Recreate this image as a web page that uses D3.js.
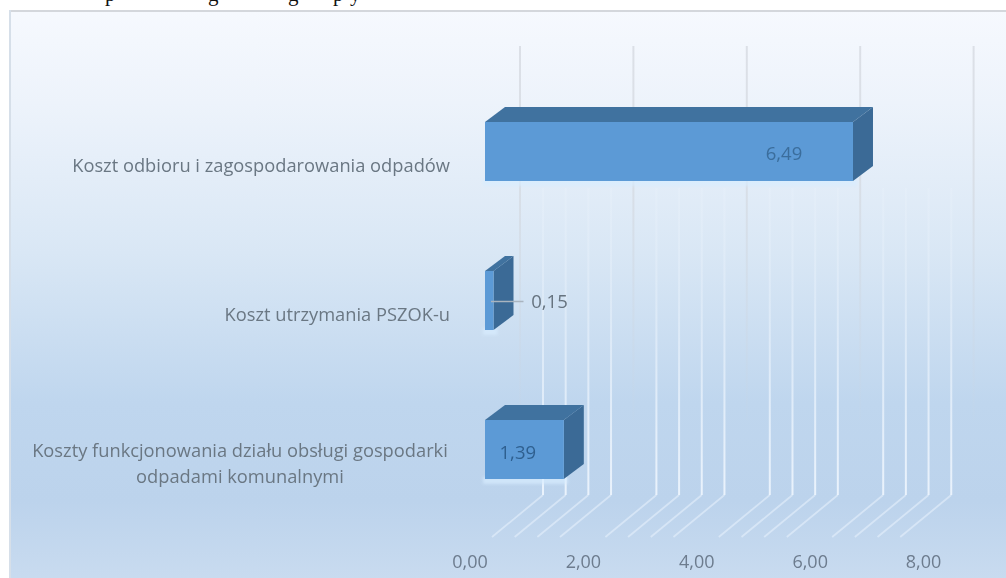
<!DOCTYPE html>
<html><head><meta charset="utf-8">
<script src="https://cdn.jsdelivr.net/npm/d3@7/dist/d3.min.js"></script>
<style>html,body{margin:0;padding:0;background:#fff}svg{display:block}</style>
</head><body><svg id="c" width="1006" height="578"></svg>
<script>
const categories = [
  ["Koszt odbioru i zagospodarowania odpadów"],
  ["Koszt utrzymania PSZOK-u"],
  ["Koszty funkcjonowania działu obsługi gospodarki","odpadami komunalnymi"]
];
const values = [6.49, 0.15, 1.39];
const valueLabels = ["6,49","0,15","1,39"];
const axisTicks = [0,2,4,6,8];
const tickLabels = ["0,00","2,00","4,00","6,00","8,00"];
const wallTicks = [0,2,4,6,8];
const minorTicks = [0,0.4,0.8,1.2, 2,2.4,2.8,3.2, 4,4.4,4.8,5.2, 6,6.4,6.8,7.2];
const clippedHeading = ["p","g","g","p","y"];
const clippedHeadingAt = [105,208,288,333,350];

const W=1006,H=578;
const svg=d3.select("#c");
const defs=svg.append("defs");
const bg=defs.append("linearGradient").attr("id","bg").attr("x1",0).attr("x2",0).attr("y1",0).attr("y2",1);
[[0,"#f6f9fe"],[.16,"#edf3fb"],[.42,"#d9e7f5"],[.68,"#bfd6ee"],[.85,"#bcd3ec"],[1,"#cadcf0"]].forEach(d=>bg.append("stop").attr("offset",d[0]).attr("stop-color",d[1]));
const wl=defs.append("linearGradient").attr("id","wl").attr("gradientUnits","userSpaceOnUse").attr("x1",0).attr("x2",0).attr("y1",190).attr("y2",495);
[[0,.15],[.35,.35],[.7,.65],[1,.85]].forEach(d=>wl.append("stop").attr("offset",d[0]).attr("stop-color","#f2f8ff").attr("stop-opacity",d[1]));
const gl=defs.append("linearGradient").attr("id","gl").attr("gradientUnits","userSpaceOnUse").attr("x1",0).attr("x2",0).attr("y1",45).attr("y2",420);
[[0,"#d9dde4",.9],[.4,"#d4d9e0",.7],[1,"#c8d4e2",.1]].forEach(d=>gl.append("stop").attr("offset",d[0]).attr("stop-color",d[1]).attr("stop-opacity",d[2]));
defs.append("filter").attr("id","soft").attr("filterUnits","userSpaceOnUse").attr("x",0).attr("y",0).attr("width",W).attr("height",H).append("feGaussianBlur").attr("stdDeviation",0.7);
defs.append("filter").attr("id","softer").attr("x","-20%").attr("y","-20%").attr("width","140%").attr("height","140%").append("feGaussianBlur").attr("stdDeviation",1.6);

svg.append("g").selectAll("text").data(clippedHeading).join("text")
  .attr("x",(d,i)=>clippedHeadingAt[i]).attr("y",1)
  .attr("font-family","Liberation Serif").attr("font-size",21).attr("fill","#111").text(d=>d);

const root=svg.append("g").attr("filter","url(#soft)");
root.append("rect").attr("x",9).attr("y",10).attr("width",W).attr("height",H).attr("fill","url(#bg)");
root.append("rect").attr("x",9).attr("y",10).attr("width",W).attr("height",2).attr("fill","#d4d7dc");
root.append("rect").attr("x",9).attr("y",10).attr("width",2).attr("height",H).attr("fill","#d6dfe9");

const x=d3.scaleLinear().domain([0,8]).range([485,485+56.7*8]);
const y=d3.scaleBand().domain(d3.range(values.length)).range([77,524]).paddingInner(.604).paddingOuter(.302);
const h=y.bandwidth();
const wallDx=35, floorBackDx=58, floorFrontDx=7, floorTop=495, floorBottom=537, wallTop=46;
const depthX=20, depthY=15;

root.append("g").selectAll("line").data(wallTicks).join("line")
  .attr("x1",d=>x(d)+wallDx).attr("x2",d=>x(d)+wallDx+.01).attr("y1",wallTop).attr("y2",420)
  .attr("stroke","url(#gl)").attr("stroke-width",2);
root.append("g").selectAll("path").data(minorTicks).join("path")
  .attr("d",d=>`M${x(d)+floorFrontDx},${floorBottom}L${x(d)+floorBackDx},${floorTop}`)
  .attr("fill","none").attr("stroke","#e6f0fb").attr("stroke-opacity",.6).attr("stroke-width",1.8);
root.append("g").selectAll("line").data(minorTicks).join("line")
  .attr("x1",d=>x(d)+floorBackDx).attr("x2",d=>x(d)+floorBackDx+.01).attr("y1",188).attr("y2",floorTop)
  .attr("stroke","url(#wl)").attr("stroke-width",2);

const bars=root.append("g").selectAll("g").data(values).join("g");
bars.append("rect").attr("x",x(0)-2).attr("y",(d,i)=>y(i)+h-2).attr("width",d=>x(d)-x(0)+6).attr("height",7)
  .attr("fill","#d8edff").attr("opacity",.7).attr("filter","url(#softer)");
bars.append("path").attr("fill","#41729f")
  .attr("d",(d,i)=>`M${x(0)},${y(i)}l${depthX},${-depthY}H${x(d)+depthX}l${-depthX},${depthY}Z`);
bars.append("path").attr("fill","#3a6a96")
  .attr("d",(d,i)=>`M${x(d)},${y(i)}l${depthX},${-depthY}v${h}l${-depthX},${depthY}Z`);
bars.append("rect").attr("fill","#5b9ad6").attr("x",x(0)).attr("y",(d,i)=>y(i))
  .attr("width",d=>x(d)-x(0)).attr("height",h);

const labels=root.append("g").attr("font-family","Open Sans").attr("font-size",18.3).attr("fill","#6a7783");
const singleEnd=450, wrappedCentre=240, lineGap=26, labelDrop=20;
categories.forEach((lines,i)=>{
  const cy=y(i)+h/2;
  lines.forEach((t,j)=>{
    labels.append("text")
      .attr("x",lines.length>1?wrappedCentre:singleEnd)
      .attr("y",cy+labelDrop+(j-(lines.length-1)/2)*lineGap)
      .attr("text-anchor",lines.length>1?"middle":"end").text(t);
  });
});

root.append("g").attr("font-family","Open Sans").attr("font-size",18).attr("fill","#6d7c8e")
  .selectAll("text").data(axisTicks).join("text")
  .attr("x",d=>x(d)-15).attr("y",568).attr("text-anchor","middle").text((d,i)=>tickLabels[i]);

const labelDx=[-69,56,-46], labelDy=[8,7,9], labelColor=["#3b6d9c","#66737f","#2f5f8f"];
root.append("g").attr("font-family","Open Sans").attr("font-size",18.5)
  .selectAll("text").data(values).join("text")
  .attr("x",(d,i)=>x(d)+labelDx[i]).attr("y",(d,i)=>y(i)+h/2+labelDy[i])
  .attr("text-anchor","middle").attr("fill",(d,i)=>labelColor[i]).text((d,i)=>valueLabels[i]);
root.append("line").attr("x1",x(0)+6).attr("x2",x(values[1])+30).attr("y1",y(1)+h/2+1).attr("y2",y(1)+h/2+1)
  .attr("stroke","#a9b4bf").attr("stroke-width",1.6);
</script></body></html>
